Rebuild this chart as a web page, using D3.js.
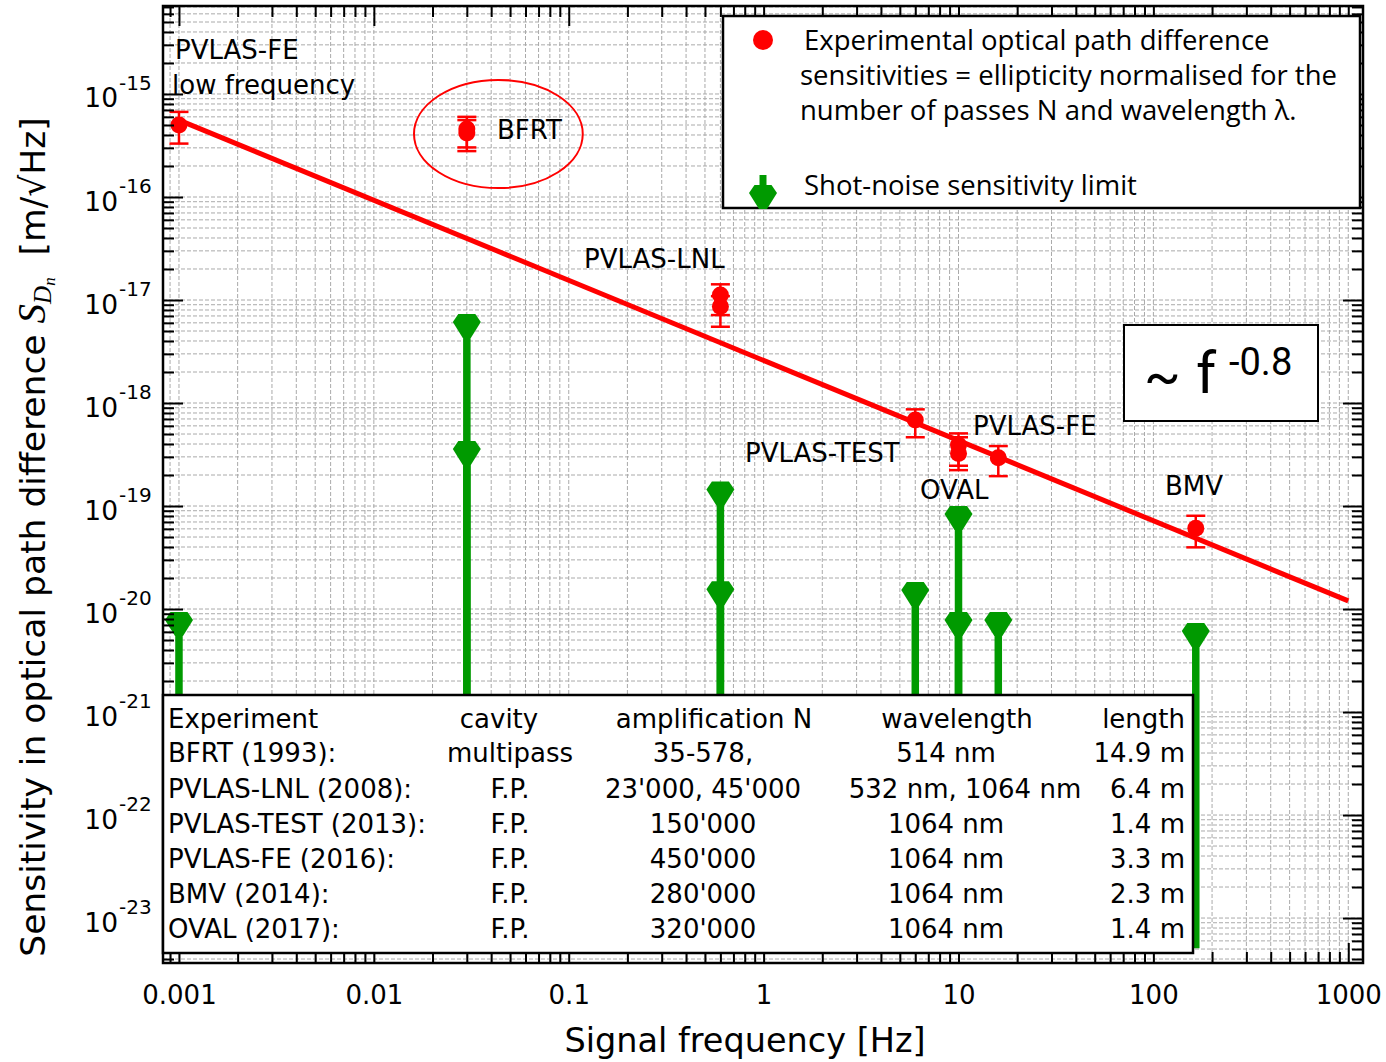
<!DOCTYPE html>
<html>
<head>
<meta charset="utf-8">
<script src="https://cdn.jsdelivr.net/npm/d3@7"></script>
<style>
  body { margin: 0; background: #fff; }
  text { white-space: pre; }
</style>
</head>
<body>
<svg id="chart" width="1386" height="1062"></svg>
<script>
// ---- Experimental optical path difference sensitivities (m/sqrt(Hz)) ----
const expNames  = ["PVLAS-FE low", "BFRT", "BFRT", "PVLAS-LNL", "PVLAS-LNL", "PVLAS-TEST", "OVAL", "OVAL", "PVLAS-FE", "BMV"];
const expFreq   = [0.001, 0.03, 0.03, 0.6, 0.6, 6, 10, 10, 16, 165];
const expValue  = [5.0e-16, 4.57e-16, 4.18e-16, 1.12e-17, 8.65e-18, 6.84e-19, 3.91e-19, 3.24e-19, 2.94e-19, 6.07e-20];
const expErrHi  = [6.7e-16, 6.0e-16, 5.58e-16, 1.42e-17, 1.09e-17, 8.68e-19, 5.07e-19, 4.65e-19, 3.82e-19, 8.04e-20];
const expErrLo  = [3.3e-16, 3.03e-16, 2.79e-16, 7.14e-18, 5.5e-18, 4.65e-19, 2.46e-19, 2.23e-19, 1.95e-19, 3.97e-20];

// ---- Shot-noise sensitivity limits ----
const shotFreq  = [0.001, 0.03, 0.03, 0.6, 0.6, 6, 10, 10, 16, 165];
const shotValue = [7.5e-21, 5.85e-18, 3.42e-19, 1.38e-19, 1.49e-20, 1.46e-20, 8.0e-20, 7.5e-21, 7.5e-21, 5.85e-21];
const shotFloor = 5.1e-24;

// ---- Power-law trend ~ f^-0.8 ----
const trendFreq  = [0.001, 1000];
const trendValue = [5.58e-16, 1.2e-20];

// ---- BFRT highlight ellipse (frequency / value bounds) ----
const ellipseFreq  = [0.01607, 0.118];
const ellipseValue = [1.37e-15, 1.22e-16];

// ---- Axis tick labels ----
const xTickLabels = ["0.001", "0.01", "0.1", "1", "10", "100", "1000"];
const yTickExponents = [-15, -16, -17, -18, -19, -20, -21, -22, -23];

// ---- Table of experiments ----
const tableHeader = ["Experiment", "cavity", "amplification N", "wavelength", "length"];
const tableExperiment = ["BFRT (1993):", "PVLAS-LNL (2008):", "PVLAS-TEST (2013):", "PVLAS-FE (2016):", "BMV (2014):", "OVAL (2017):"];
const tableCavity     = ["multipass", "F.P.", "F.P.", "F.P.", "F.P.", "F.P."];
const tableAmplif     = ["35-578,", "23'000, 45'000", "150'000", "450'000", "280'000", "320'000"];
const tableWavelength = ["514 nm", "532 nm, 1064 nm", "1064 nm", "1064 nm", "1064 nm", "1064 nm"];
const tableLength     = ["14.9 m", "6.4 m", "1.4 m", "3.3 m", "2.3 m", "1.4 m"];

// ---- Legend text ----
const legendExp = ["Experimental optical path difference",
                   "sensitivities = ellipticity normalised for the",
                   "number of passes N and wavelength \u03bb."];
const legendShot = "Shot-noise sensitivity limit";

// ---------------------------------------------------------------
const RED = "#ff0000", GREEN = "#009a00";
const SANS = "'DejaVu Sans', sans-serif";
const NARROW = "'Open Sans', sans-serif";
const plot = { left: 163, right: 1363, top: 6, bottom: 963 };

const svg = d3.select("#chart");
svg.append("rect").attr("width", 1386).attr("height", 1062).attr("fill", "#fff");

const x = d3.scaleLog().domain([8.28e-4, 1190]).range([plot.left, plot.right]);
const y = d3.scaleLog().domain([7.15e-15, 3.66e-24]).range([plot.top, plot.bottom]);

function logTicks(scale) {
  const [a, b] = d3.extent(scale.domain());
  const out = [];
  for (let e = Math.floor(Math.log10(a)); e <= Math.ceil(Math.log10(b)); e++) {
    for (let k = 1; k <= 9; k++) {
      const v = k * Math.pow(10, e);
      if (v >= a && v <= b) out.push(v);
    }
  }
  return out;
}
const isMajor = v => Math.abs(Math.log10(v) - Math.round(Math.log10(v))) < 1e-9;
const xTicks = logTicks(x), yTicks = logTicks(y);
const xMajor = xTicks.filter(isMajor), xMinor = xTicks.filter(v => !isMajor(v));
const yMajor = yTicks.filter(isMajor), yMinor = yTicks.filter(v => !isMajor(v));

// grid
const grid = svg.append("g").attr("stroke", "#aaaaaa").attr("stroke-width", 1).attr("stroke-dasharray", "4,2");
grid.selectAll("line.gx").data(xTicks).join("line")
  .attr("x1", d => x(d)).attr("x2", d => x(d)).attr("y1", plot.top).attr("y2", plot.bottom);
grid.selectAll("line.gy").data(yTicks).join("line")
  .attr("y1", d => y(d)).attr("y2", d => y(d)).attr("x1", plot.left).attr("x2", plot.right);

// trend line
svg.append("path")
  .datum(trendFreq.map((f, i) => [f, trendValue[i]]))
  .attr("d", d3.line().x(d => x(d[0])).y(d => y(d[1])))
  .attr("stroke", RED).attr("stroke-width", 5).attr("fill", "none");

// shot-noise stems and markers
const markerShape = [[-8.5, -10], [8.5, -10], [14, -2], [4, 14], [-4, 14], [-14, -2]];
const shapePath = (cx, cy) => "M" + markerShape.map(p => [cx + p[0], cy + p[1]].join(",")).join("L") + "Z";
const shot = svg.append("g");
shot.selectAll("line").data(shotFreq).join("line")
  .attr("x1", d => x(d)).attr("x2", d => x(d))
  .attr("y1", (d, i) => y(shotValue[i])).attr("y2", y(shotFloor))
  .attr("stroke", GREEN).attr("stroke-width", 7.5);
shot.selectAll("path").data(shotFreq).join("path")
  .attr("d", (d, i) => shapePath(x(d), y(shotValue[i])))
  .attr("fill", GREEN);

// experimental points with error bars
const expG = svg.append("g").attr("stroke", RED);
expFreq.forEach((f, i) => {
  const cx = x(f);
  expG.append("line").attr("x1", cx).attr("x2", cx)
    .attr("y1", y(expErrHi[i])).attr("y2", y(expErrLo[i])).attr("stroke-width", 2.5);
  [expErrHi[i], expErrLo[i]].forEach(v => {
    expG.append("line").attr("x1", cx - 9.5).attr("x2", cx + 9.5)
      .attr("y1", y(v)).attr("y2", y(v)).attr("stroke-width", 2.5);
  });
});
svg.append("g").selectAll("circle").data(expFreq).join("circle")
  .attr("cx", d => x(d)).attr("cy", (d, i) => y(expValue[i])).attr("r", 8.5).attr("fill", RED);

// BFRT ellipse
const ex0 = x(ellipseFreq[0]), ex1 = x(ellipseFreq[1]);
const ey0 = y(ellipseValue[0]), ey1 = y(ellipseValue[1]);
svg.append("ellipse")
  .attr("cx", (ex0 + ex1) / 2).attr("cy", (ey0 + ey1) / 2)
  .attr("rx", (ex1 - ex0) / 2).attr("ry", (ey1 - ey0) / 2)
  .attr("fill", "none").attr("stroke", RED).attr("stroke-width", 2);

// experiment annotations
const annotations = [
  { t: "PVLAS-FE", x: 175, y: 50 },
  { t: "low frequency", x: 172, y: 85 },
  { t: "BFRT", x: 497, y: 130 },
  { t: "PVLAS-LNL", x: 584, y: 259 },
  { t: "PVLAS-TEST", x: 745, y: 453 },
  { t: "PVLAS-FE", x: 973, y: 426 },
  { t: "OVAL", x: 920, y: 490 },
  { t: "BMV", x: 1165, y: 486 }
];
svg.append("g").selectAll("text").data(annotations).join("text")
  .attr("x", d => d.x).attr("y", d => d.y).attr("dy", "0.36em")
  .attr("font-family", SANS).attr("font-size", 26).attr("fill", "#000")
  .text(d => d.t);

// axes (ticks point inward)
function styleAxis(g) {
  g.select(".domain").remove();
  g.selectAll(".tick line").attr("stroke", "#000").attr("stroke-width", 2);
}
const axisDefs = [
  { gen: d3.axisBottom, s: x, tr: `translate(0,${plot.bottom})` },
  { gen: d3.axisTop, s: x, tr: `translate(0,${plot.top})` },
  { gen: d3.axisLeft, s: y, tr: `translate(${plot.left},0)` },
  { gen: d3.axisRight, s: y, tr: `translate(${plot.right},0)` }
];
axisDefs.forEach(a => {
  const minor = a.s === x ? xMinor : yMinor;
  const major = a.s === x ? xMajor : yMajor;
  svg.append("g").attr("transform", a.tr)
    .call(a.gen(a.s).tickValues(minor).tickSize(-11).tickFormat(""))
    .call(styleAxis);
  svg.append("g").attr("transform", a.tr)
    .call(a.gen(a.s).tickValues(major).tickSize(-20).tickFormat(""))
    .call(styleAxis);
});

// x tick labels
const xLab = svg.append("g").attr("transform", `translate(0,${plot.bottom})`)
  .call(d3.axisBottom(x).tickValues(xMajor).tickSize(0).tickPadding(23)
    .tickFormat((d, i) => xTickLabels[i]));
xLab.select(".domain").remove();
xLab.selectAll("text").attr("font-family", SANS).attr("font-size", 26).attr("fill", "#000");

// y tick labels: 10^n
const yLab = svg.append("g").attr("font-family", SANS).attr("fill", "#000");
yTickExponents.forEach(e => {
  const yy = y(Math.pow(10, e));
  yLab.append("text").attr("x", 118).attr("y", yy + 13.5).attr("text-anchor", "end")
    .attr("font-size", 26.5).text("10");
  yLab.append("text").attr("x", 119).attr("y", yy - 4).attr("font-size", 20).text(String(e));
});

// frame
svg.append("rect")
  .attr("x", plot.left).attr("y", plot.top)
  .attr("width", plot.right - plot.left).attr("height", plot.bottom - plot.top)
  .attr("fill", "none").attr("stroke", "#000").attr("stroke-width", 2.5);

// axis titles
svg.append("text").attr("x", 745).attr("y", 1052).attr("text-anchor", "middle")
  .attr("font-family", SANS).attr("font-size", 33.5).attr("fill", "#000")
  .text("Signal frequency [Hz]");

const yt = svg.append("text").attr("transform", "translate(45,537) rotate(-90)")
  .attr("text-anchor", "middle").attr("font-family", SANS).attr("font-size", 34.5).attr("fill", "#000");
yt.append("tspan").text("Sensitivity in optical path difference ");
yt.append("tspan").attr("font-family", "'Liberation Serif', serif").attr("font-style", "italic")
  .attr("font-size", 39).text("S");
yt.append("tspan").attr("font-family", "'Liberation Serif', serif").attr("font-style", "italic")
  .attr("font-size", 25).attr("dy", 6).text("D");
yt.append("tspan").attr("font-family", "'Liberation Serif', serif").attr("font-style", "italic")
  .attr("font-size", 17).attr("dy", 4).text("n");
yt.append("tspan").attr("dy", -10).text("  [m/\u221aHz]");

// legend box
svg.append("rect").attr("x", 723).attr("y", 16).attr("width", 637).attr("height", 192)
  .attr("fill", "#fff").attr("stroke", "#000").attr("stroke-width", 2.5);
svg.append("circle").attr("cx", 763).attr("cy", 40).attr("r", 10).attr("fill", RED);
svg.append("line").attr("x1", 763).attr("x2", 763).attr("y1", 175).attr("y2", 192)
  .attr("stroke", GREEN).attr("stroke-width", 7);
svg.append("path").attr("d", shapePath(763, 195)).attr("fill", GREEN);
const legT = svg.append("g").attr("font-family", NARROW).attr("font-size", 27.5).attr("fill", "#000");
legendExp.forEach((t, i) => {
  legT.append("text").attr("x", i === 0 ? 804 : 800).attr("y", 40 + 35 * i).attr("dy", "0.36em").text(t);
});
legT.append("text").attr("x", 804).attr("y", 185).attr("dy", "0.36em").text(legendShot);

// power-law box
svg.append("rect").attr("x", 1124).attr("y", 325).attr("width", 194).attr("height", 96)
  .attr("fill", "#fff").attr("stroke", "#000").attr("stroke-width", 2);
const plG = svg.append("g").attr("font-family", "Roboto, sans-serif").attr("fill", "#000");
plG.append("text").attr("x", 1144).attr("y", 395).attr("font-size", 54).text("~");
plG.append("text").attr("x", 1196).attr("y", 393).attr("font-size", 58).text("f");
plG.append("text").attr("x", 1229).attr("y", 375).attr("font-size", 38).text("-0.8");

// table of experiments
svg.append("rect").attr("x", plot.left).attr("y", 695).attr("width", 1030).attr("height", 258)
  .attr("fill", "#fff").attr("stroke", "#000").attr("stroke-width", 2.5);
const tab = svg.append("g").attr("font-family", SANS).attr("font-size", 26).attr("fill", "#000");
const headerCols = [{ x: 168, a: "start" }, { x: 499, a: "middle" }, { x: 714, a: "middle" }, { x: 957, a: "middle" }, { x: 1185, a: "end" }];
const bodyCols   = [{ x: 168, a: "start" }, { x: 510, a: "middle" }, { x: 703, a: "middle" }, { x: 946, a: "middle" }, { x: 1185, a: "end" }];
tableHeader.forEach((t, c) => {
  tab.append("text").attr("x", headerCols[c].x).attr("y", 719).attr("dy", "0.36em")
    .attr("text-anchor", headerCols[c].a).text(t);
});
const tableCols = [tableExperiment, tableCavity, tableAmplif, tableWavelength, tableLength];
tableExperiment.forEach((_, r) => {
  tableCols.forEach((col, c) => {
    let cx = bodyCols[c].x;
    if (c === 3 && col[r].length > 8) cx = 965;
    tab.append("text").attr("x", cx).attr("y", 753 + 35.2 * r).attr("dy", "0.36em")
      .attr("text-anchor", bodyCols[c].a).text(col[r]);
  });
});
</script>
</body>
</html>
